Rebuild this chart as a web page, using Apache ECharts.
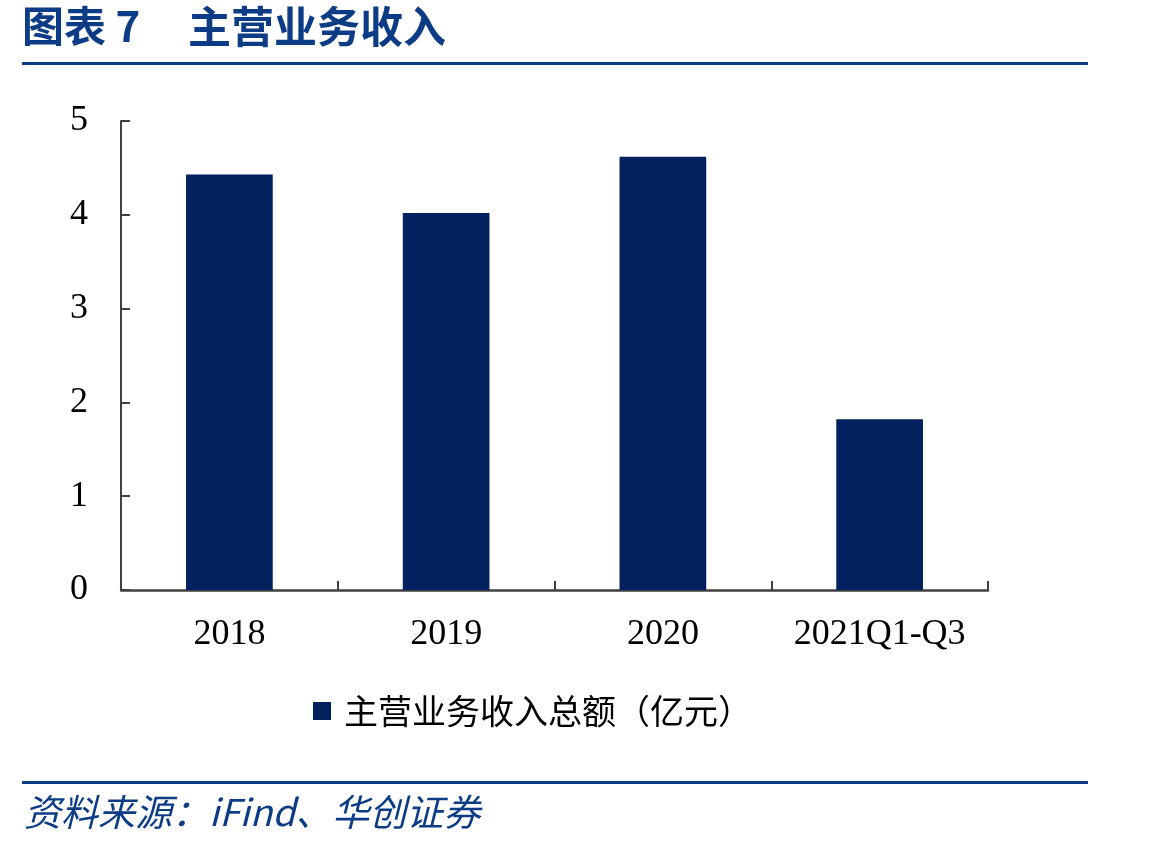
<!DOCTYPE html>
<html><head><meta charset="utf-8">
<script src="https://cdn.jsdelivr.net/npm/echarts@6/dist/echarts.min.js"></script>
<style>html,body{margin:0;padding:0;background:#fff}#c{width:1149px;height:850px}</style>
</head><body><div id="c"></div>
<script>
const categories = ['2018', '2019', '2020', '2021Q1-Q3'];
const revenue = [4.43, 4.02, 4.62, 1.82];
const seriesName = '主营业务收入总额（亿元）';
const titleLabel = '图表 7';
const titleText = '主营业务收入';
const sourceText = '资料来源：iFind、华创证券';

const chart = echarts.init(document.getElementById('c'));
const serif = '"Liberation Serif","Times New Roman",serif';
const cjk = '"Noto Sans CJK SC","Noto Sans CJK JP",sans-serif';
const blue = '#0c3c86';
chart.setOption({
  animation: false,
  backgroundColor: '#fff',
  graphic: [
    {type:'text', left: 22, top: 5, style:{text: titleLabel, font: 'bold 42px ' + cjk, fill: blue}},
    {type:'text', left: 188, top: 5, style:{text: titleText, font: 'bold 43px ' + cjk, fill: blue}},
    {type:'rect', shape:{x:22, y:62, width:1066, height:3}, style:{fill: blue}},
    {type:'rect', shape:{x:22, y:781, width:1066, height:3}, style:{fill: blue}},
    {type:'text', left: 24, top: 793, style:{text: sourceText, font: 'italic 37px ' + cjk, fill: blue}}
  ],
  legend: {
    bottom: 117, left: 308, itemWidth: 18, itemHeight: 18, icon: 'rect', itemGap: 12,
    textStyle: {fontFamily: cjk, fontSize: 34, color: '#000', padding: [0, 0, 0, 8]},
    data: [seriesName]
  },
  grid: {left: 121, right: 161, top: 121, bottom: 260, containLabel: false},
  xAxis: {
    type: 'category', data: categories,
    axisLine: {show: true, lineStyle: {color: '#404040', width: 2.5}},
    axisTick: {show: true, alignWithLabel: false, inside: true, length: 9, interval: 0, lineStyle: {color: '#404040', width: 2}},
    axisLabel: {fontFamily: serif, fontSize: 36, color: '#000', margin: 27, interval: 0}
  },
  yAxis: {
    type: 'value', min: 0, max: 5, interval: 1,
    splitLine: {show: false},
    axisLine: {show: true, lineStyle: {color: '#404040', width: 2}},
    axisTick: {show: true, inside: true, length: 9, lineStyle: {color: '#404040', width: 2}},
    axisLabel: {fontFamily: serif, fontSize: 36, color: '#000', margin: 33}
  },
  series: [{
    name: seriesName, type: 'bar', data: revenue, barWidth: '40%',
    itemStyle: {color: '#03215e'}
  }]
});
</script></body></html>
